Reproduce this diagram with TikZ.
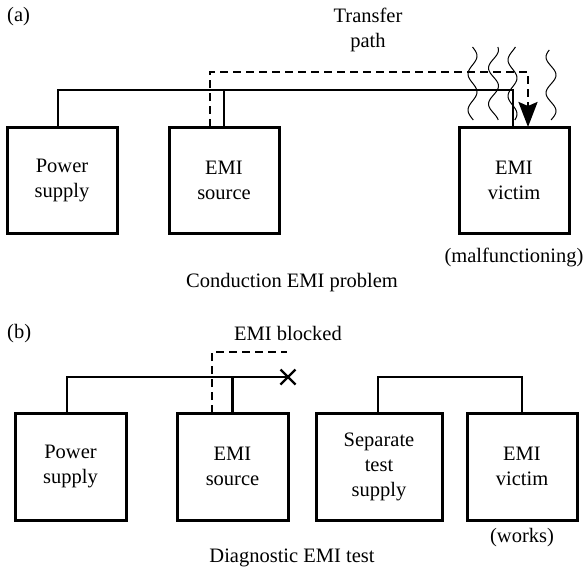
\documentclass[tikz,border=0pt]{standalone}
\usepackage{fontspec}
\setmainfont{Liberation Serif}
\usetikzlibrary{arrows.meta,shapes.misc}

\tikzset{
  unit/.style={draw, line width=3pt, minimum height=106pt, minimum width=110pt,
               align=center, inner sep=0pt, outer sep=0pt},
  wire/.style={line width=2.4pt},
  emipath/.style={line width=2.4pt, dash pattern=on 8pt off 5pt},
  noise/.style={line width=1pt},
  caption/.style={inner sep=0pt, align=center},
  blockmark/.style={draw, cross out, line width=2.4pt, minimum size=15pt, inner sep=0pt, outer sep=0pt},
}

\begin{document}
\begin{tikzpicture}[x=1pt, y=-1pt, font=\fontsize{20.5pt}{25pt}\selectfont]
  \fill[white] (0,0) rectangle (585,570);
  \useasboundingbox (0,0) rectangle (585,570);

  % ---------- (a) conduction problem ----------
  \node[caption, anchor=west] (tagA) at (7,17) {(a)};
  \node[unit] (psA)  at (62,180)  {Power\\supply};
  \node[unit] (srcA) at (224,180) {EMI\\source};
  \node[unit] (vicA) at (514,180) {EMI\\victim};

  % shared supply line
  \draw[wire] ([xshift=-4pt]psA.north) -- ++(0,-37) -| ([xshift=-1pt]vicA.north);
  \draw[wire] (srcA.north) -- ++(0,-37);

  % radiated noise around the victim
  \draw[noise] plot[smooth, domain=0:73, samples=40] ({472.5+4.5*sin(\x*10)}, {47+\x});
  \draw[noise] plot[smooth, domain=0:73, samples=40] ({493.5+5*sin(\x*10+60)}, {47+\x});
  \draw[noise] plot[smooth, domain=0:73, samples=40] ({512.5+4.5*sin(\x*10+140)}, {47+\x});
  \draw[noise] plot[smooth, domain=0:70, samples=40] ({551+5*sin(\x*10+200)}, {50+\x});

  % transfer path
  \draw[emipath, -{Stealth[length=25pt, width=19pt, inset=4pt]}]
    ([xshift=-14pt]srcA.north) -- ++(0,-55) -| ([xshift=14pt]vicA.north);
  \node[caption] (xfer) at (368,30) {Transfer\\path};

  \node[caption] (malf)  at (514,257) {(malfunctioning)};
  \node[caption] (titleA) at (292,283) {Conduction EMI problem};

  % ---------- (b) diagnostic test ----------
  \node[caption, anchor=west] (tagB) at (7,334) {(b)};
  \node[unit, minimum height=107pt, minimum width=111pt] (psB)  at (70.5,466.5) {Power\\supply};
  \node[unit, minimum height=107pt, minimum width=111pt] (srcB) at (232.5,466.5) {EMI\\source};
  \node[unit, minimum height=107pt, minimum width=126pt] (sepB) at (379,466.5) {Separate\\test\\supply};
  \node[unit, minimum height=107pt, minimum width=110pt] (vicB) at (522,466.5) {EMI\\victim};

  \node[blockmark] (blk) at (288,377) {};
  \coordinate (dashEnd) at (287,352);

  \draw[wire] ([xshift=-3.5pt]psB.north) -- ++(0,-36) -- (blk.center);
  \draw[wire] (srcB.north) -- ++(0,-36);
  \draw[emipath] ([xshift=-20.5pt]srcB.north) |- (dashEnd);
  \node[caption] (blocked) at (288,333) {EMI blocked};

  \draw[wire] ([xshift=-1pt]sepB.north) -- ++(0,-36) -| (vicB.north);

  \node[caption] (works)  at (522,538) {(works)};
  \node[caption] (titleB) at (292,558) {Diagnostic EMI test};
\end{tikzpicture}
\end{document}
